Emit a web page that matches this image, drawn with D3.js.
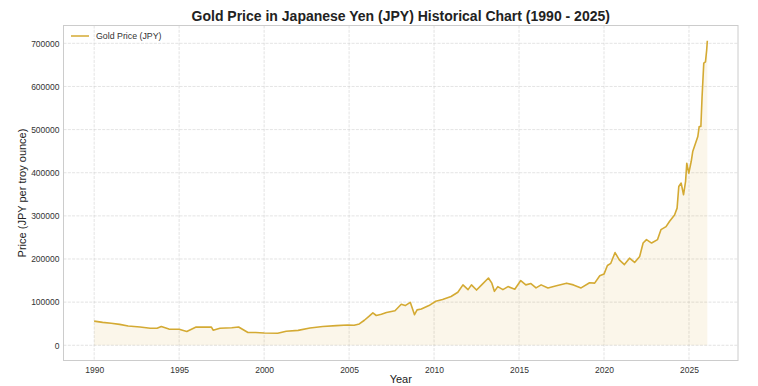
<!DOCTYPE html>
<html>
<head>
<meta charset="utf-8">
<script src="https://cdn.jsdelivr.net/npm/d3@7"></script>
<style>
  body { margin: 0; background: #fff; }
  svg { display: block; font-family: "Liberation Sans", Arial, sans-serif; }
</style>
</head>
<body>
<svg id="chart" width="758" height="386"></svg>
<script>
// Gold price in JPY (decimal year, yen per troy ounce)
const years = [
  1990.0, 1990.5, 1991.0, 1991.5, 1992.0, 1992.7, 1993.3, 1993.7, 1993.95, 1994.4,
  1995.0, 1995.45, 1996.0, 1996.9, 1997.0, 1997.4, 1998.1, 1998.5, 1999.05, 1999.5,
  2000.0, 2000.8, 2001.3, 2002.0, 2002.7, 2003.45, 2004.25, 2004.9, 2005.3, 2005.6,
  2005.9, 2006.2, 2006.4, 2006.6, 2006.9, 2007.2, 2007.7, 2008.07, 2008.3, 2008.6,
  2008.85, 2009.0, 2009.25, 2009.7, 2010.1, 2010.5, 2011.0, 2011.4, 2011.7, 2012.0,
  2012.2, 2012.5, 2012.8, 2013.2, 2013.4, 2013.55, 2013.75, 2014.05, 2014.35, 2014.75,
  2015.1, 2015.4, 2015.7, 2016.0, 2016.3, 2016.7, 2017.2, 2017.8, 2018.2, 2018.65,
  2019.15, 2019.45, 2019.75, 2020.0, 2020.2, 2020.4, 2020.65, 2020.9, 2021.2, 2021.5,
  2021.8, 2022.1, 2022.3, 2022.5, 2022.8, 2023.15, 2023.35, 2023.65, 2023.85, 2024.15,
  2024.3, 2024.4, 2024.54, 2024.68, 2024.8, 2024.87, 2024.99, 2025.13, 2025.22, 2025.38,
  2025.52, 2025.6, 2025.7, 2025.77, 2025.87, 2025.97, 2026.04, 2026.08
];
const prices = [
  56000, 53000, 51000, 48500, 44500, 42500, 39500, 39500, 43500, 37500,
  37000, 32000, 42500, 42000, 35000, 39500, 40500, 42500, 29500, 29500,
  28500, 28000, 32500, 34500, 40000, 43500, 45500, 47000, 46500, 49500,
  58000, 68000, 75000, 69000, 72000, 76000, 80000, 95000, 92000, 99500,
  71000, 82000, 84000, 92000, 102000, 106000, 113000, 123000, 140000, 129000,
  140000, 128000, 140000, 156000, 144000, 125000, 136000, 129000, 136000, 130000,
  150000, 140000, 143000, 133000, 140000, 133000, 138000, 144000, 140000, 133000,
  145000, 144000, 161000, 165000, 185000, 190000, 215000, 198000, 187000, 202000,
  192000, 206000, 237000, 245000, 237000, 245000, 268000, 275000, 287000, 302000,
  318000, 368000, 376000, 349000, 380000, 422000, 399000, 426000, 449000, 468000,
  484000, 507000, 507000, 576000, 654000, 657000, 684000, 706000
];
const xTicks = [1990, 1995, 2000, 2005, 2010, 2015, 2020, 2025];
const yTicks = [0, 100000, 200000, 300000, 400000, 500000, 600000, 700000];

const gold = '#D4AA33';
const data = years.map((yr, i) => ({ year: yr, price: prices[i] }));

const svg = d3.select('#chart');
// plot area in pixels
const pl = 63.5, pr = 738, pt = 25.5, pb = 360.5;

// matplotlib-style 5% margins
const [x0, x1] = d3.extent(years);
const xPad = (x1 - x0) * 0.05;
const yMax = d3.max(prices);
const yPad = yMax * 0.05;

const x = d3.scaleLinear().domain([x0 - xPad, x1 + xPad]).range([pl, pr]);
const y = d3.scaleLinear().domain([-yPad, yMax + yPad]).range([pb, pt]);

// Grid
const grid = svg.append('g')
  .attr('stroke', '#cccccc')
  .attr('stroke-opacity', 0.7)
  .attr('stroke-width', 0.8)
  .attr('stroke-dasharray', '3,1.3');
grid.selectAll('.gx').data(xTicks).join('line')
  .attr('x1', d => x(d)).attr('x2', d => x(d))
  .attr('y1', pt).attr('y2', pb);
grid.selectAll('.gy').data(yTicks).join('line')
  .attr('x1', pl).attr('x2', pr)
  .attr('y1', d => y(d)).attr('y2', d => y(d));

// Fill under the line
svg.append('path')
  .datum(data)
  .attr('fill', gold)
  .attr('fill-opacity', 0.1)
  .attr('d', d3.area().x(d => x(d.year)).y0(y(0)).y1(d => y(d.price)));

// Price line
svg.append('path')
  .datum(data)
  .attr('fill', 'none')
  .attr('stroke', gold)
  .attr('stroke-width', 1.6)
  .attr('stroke-linejoin', 'round')
  .attr('d', d3.line().x(d => x(d.year)).y(d => y(d.price)));

// Frame
svg.append('rect')
  .attr('x', pl).attr('y', pt)
  .attr('width', pr - pl).attr('height', pb - pt)
  .attr('fill', 'none')
  .attr('stroke', '#cccccc')
  .attr('stroke-width', 1);

// Axes (no tick marks, labels only)
const xAxis = svg.append('g')
  .attr('transform', `translate(0,${pb})`)
  .call(d3.axisBottom(x).tickValues(xTicks).tickFormat(d3.format('d')).tickSize(0).tickPadding(6));
const yAxis = svg.append('g')
  .attr('transform', `translate(${pl},0)`)
  .call(d3.axisLeft(y).tickValues(yTicks).tickFormat(d3.format('d')).tickSize(0).tickPadding(4));
[xAxis, yAxis].forEach(a => {
  a.select('.domain').remove();
  a.selectAll('text')
    .attr('font-family', '"Liberation Sans", Arial, sans-serif')
    .attr('font-size', 8.5)
    .attr('fill', '#333');
});

// Titles
svg.append('text')
  .attr('x', (pl + pr) / 2).attr('y', 21)
  .attr('text-anchor', 'middle')
  .attr('font-size', 14).attr('font-weight', 'bold').attr('fill', '#222')
  .text('Gold Price in Japanese Yen (JPY) Historical Chart (1990 - 2025)');
svg.append('text')
  .attr('x', (pl + pr) / 2).attr('y', 383)
  .attr('text-anchor', 'middle')
  .attr('font-size', 11).attr('fill', '#222')
  .text('Year');
svg.append('text')
  .attr('transform', `translate(26,${(pt + pb) / 2}) rotate(-90)`)
  .attr('text-anchor', 'middle')
  .attr('font-size', 11).attr('fill', '#222')
  .text('Price (JPY per troy ounce)');

// Legend
const legend = svg.append('g').attr('transform', 'translate(71,36)');
legend.append('line')
  .attr('x1', 0).attr('x2', 18).attr('y1', 0).attr('y2', 0)
  .attr('stroke', gold).attr('stroke-width', 1.5);
legend.append('text')
  .attr('x', 25).attr('y', 3.2)
  .attr('font-size', 8.8).attr('fill', '#333')
  .text('Gold Price (JPY)');
</script>
</body>
</html>
